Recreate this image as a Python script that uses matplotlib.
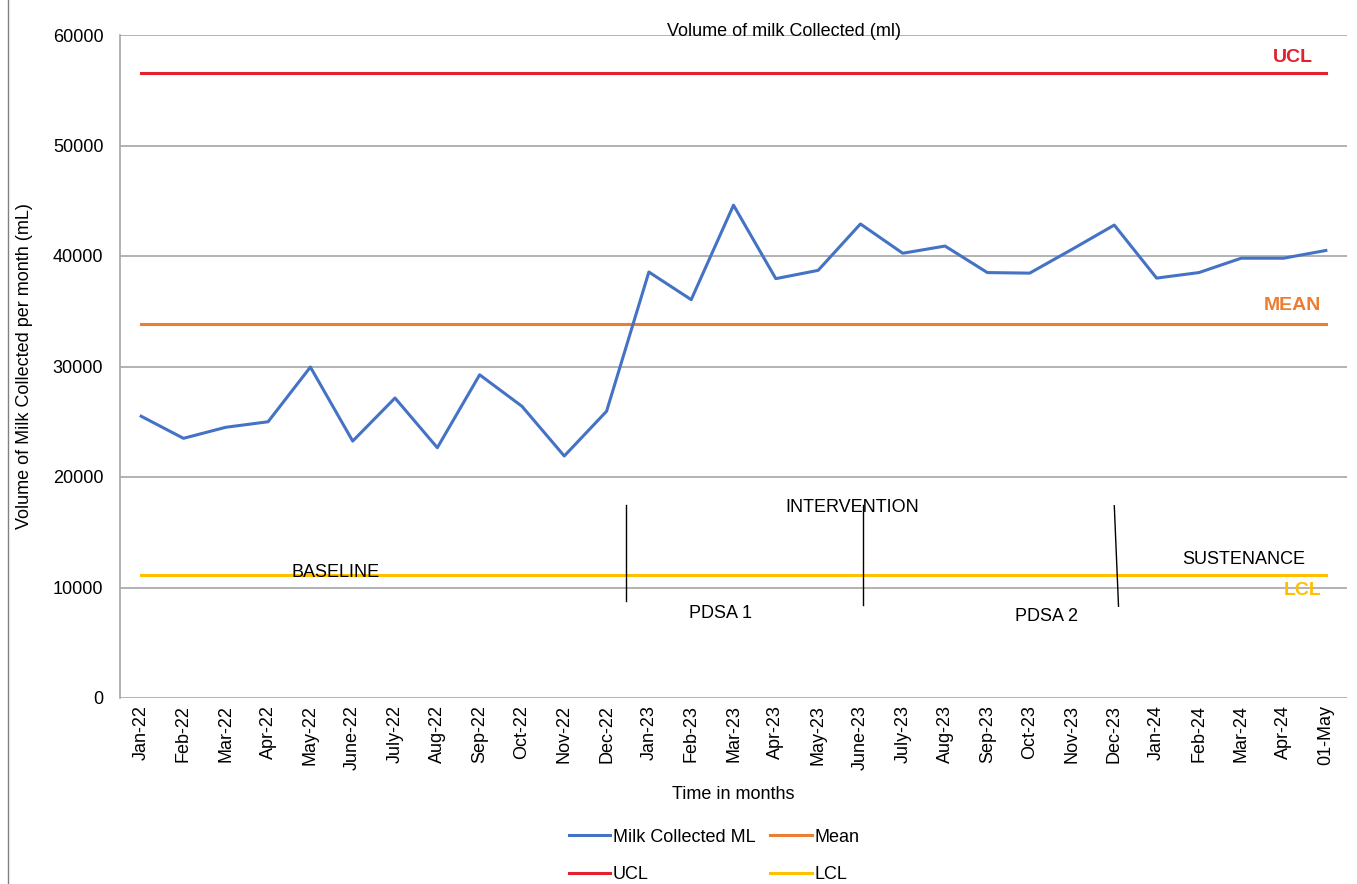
import numpy as np
import matplotlib.pyplot as plt
from matplotlib.lines import Line2D

plt.rcParams['font.family'] = ['Liberation Sans', 'DejaVu Sans']

months = ['Jan-22', 'Feb-22', 'Mar-22', 'Apr-22', 'May-22', 'June-22', 'July-22',
          'Aug-22', 'Sep-22', 'Oct-22', 'Nov-22', 'Dec-22', 'Jan-23', 'Feb-23',
          'Mar-23', 'Apr-23', 'May-23', 'June-23', 'July-23', 'Aug-23', 'Sep-23',
          'Oct-23', 'Nov-23', 'Dec-23', 'Jan-24', 'Feb-24', 'Mar-24', 'Apr-24', '01-May']
milk_ml = [25500, 23500, 24500, 25000, 29950, 23250, 27150, 22650, 29250, 26400,
           21900, 25950, 38550, 36050, 44600, 37950, 38700, 42900, 40250, 40900,
           38500, 38450, 40600, 42800, 38000, 38500, 39800, 39800, 40500]
mean_val = 33850
ucl_val = 56550
lcl_val = 11150

# phase divider lines (x bottom, x top, y bottom, y top)
dividers = [(11.45, 11.45, 8800, 17500), (17.07, 17.07, 8400, 17500), (23.1, 23.0, 8300, 17400)]

c_milk = '#4472c4'
c_mean = '#ed7d31'
c_ucl = '#e4202f'
c_lcl = '#ffc000'
fs = 13

fig = plt.figure(figsize=(13.57, 8.84), dpi=100)
ax = fig.add_axes([120 / 1357, 1 - 698 / 884, 1227 / 1357, 663 / 884])

x = np.arange(len(months))
ax.plot(x, milk_ml, color=c_milk, lw=2.2, label='Milk Collected ML', zorder=4)
ax.plot(x, [mean_val] * len(x), color=c_mean, lw=2.2, label='Mean', zorder=3)
ax.plot(x, [ucl_val] * len(x), color=c_ucl, lw=2.2, label='UCL', zorder=3)
ax.plot(x, [lcl_val] * len(x), color=c_lcl, lw=2.2, label='LCL', zorder=3)

for x0, x1, y0, y1 in dividers:
    ax.plot([x0, x1], [y0, y1], color='black', lw=1, zorder=5)

ax.set_xlim(-0.5, len(months) - 0.5)
ax.set_ylim(0, 60000)
ax.set_yticks(range(0, 60001, 10000))
ax.yaxis.grid(True, color='#a6a6a6', lw=1.2)
ax.set_axisbelow(True)
ax.set_xticks(x)
ax.set_xticklabels(months, rotation=90, fontsize=fs)
ax.tick_params(axis='y', labelsize=fs, length=0, pad=12)
ax.tick_params(axis='x', length=0, pad=5)
for s in ['top', 'right', 'bottom']:
    ax.spines[s].set_visible(False)
ax.spines['left'].set_color('#a6a6a6')
ax.spines['left'].set_linewidth(1.2)

ax.set_ylabel('Volume of Milk Collected per month (mL)', fontsize=fs, labelpad=14)
ax.set_xlabel('Time in months', fontsize=fs, labelpad=12)
ax.text(0.541, 1.006, 'Volume of milk Collected (ml)', transform=ax.transAxes,
        ha='center', va='center', fontsize=13)

# control limit labels
ax.text(27.7, ucl_val + 1400, 'UCL', color=c_ucl, fontsize=14, fontweight='bold', ha='right', va='center')
ax.text(27.9, mean_val + 1700, 'MEAN', color=c_mean, fontsize=14, fontweight='bold', ha='right', va='center')
ax.text(27.9, lcl_val - 1400, 'LCL', color=c_lcl, fontsize=14, fontweight='bold', ha='right', va='center')

# phase labels
ax.text(4.6, 11400, 'BASELINE', fontsize=fs, ha='center', va='center')
ax.text(16.8, 17200, 'INTERVENTION', fontsize=fs, ha='center', va='center')
ax.text(13.7, 7650, 'PDSA 1', fontsize=fs, ha='center', va='center')
ax.text(21.4, 7400, 'PDSA 2', fontsize=fs, ha='center', va='center')
ax.text(26.05, 12500, 'SUSTENANCE', fontsize=fs, ha='center', va='center')

h, l = ax.get_legend_handles_labels()
order = [0, 2, 1, 3]
fig.legend([h[i] for i in order], [l[i] for i in order], ncol=2, loc='center',
           bbox_to_anchor=(714 / 1357, 1 - 856 / 884), frameon=False, fontsize=fs,
           handlelength=2.3, handletextpad=0.15, columnspacing=0.8, labelspacing=1.15)

# outer frame line on the left
fig.add_artist(Line2D([8 / 1357, 8 / 1357], [0, 1], color='#808080', lw=1))

fig.savefig('out.png', dpi=100)
